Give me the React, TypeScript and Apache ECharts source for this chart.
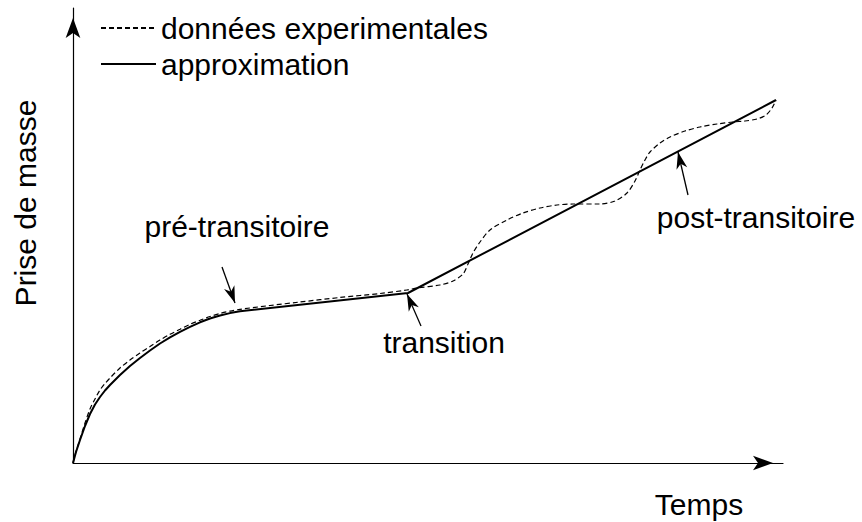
import React, { useEffect, useRef } from "react";
import * as echarts from "echarts";

// Axis extents (arbitrary units)
const X_MAX = 710;
const Y_MAX = 455;

// Approximation (solid)
const approxX = [0, 3, 7, 12, 17, 22, 27, 32, 37, 47, 57, 67, 77, 87, 97, 107, 117, 127, 137, 147, 157, 167, 335, 703];
const approxY = [0, 11, 23, 37, 49, 58.5, 66, 72.5, 78, 88, 97, 105, 112.5, 119.5, 125.7, 131.2, 136.2, 140.7, 144.5, 147.5, 149.9, 151.7, 170, 363];

// Experimental data (dashed)
const dataX = [0, 3, 7, 12, 17, 22, 27, 32, 37, 47, 57, 67, 77, 87, 97, 107, 117, 127, 137, 147, 157, 167, 197, 227, 267, 307, 334, 344, 367, 380, 390, 395, 400, 407, 417, 434, 450, 467, 484, 500, 527, 542, 554, 562, 567, 572, 577, 587, 597, 612, 627, 644, 660, 672, 684, 693, 699, 703];
const dataY = [0, 11.5, 24, 40, 54, 64, 73, 79.5, 85, 95, 103, 110, 116.5, 123, 128.7, 133.7, 138.7, 142.7, 146.5, 149.5, 151.9, 153.7, 157.5, 161, 165.5, 169.5, 173, 175, 178, 182, 189, 199, 210, 221, 233, 243, 250, 255, 258, 259, 259, 262, 270, 282, 293, 303, 311, 320, 326, 332, 336, 339, 341, 342, 344, 348, 355, 363];

const seriesNames = ["données experimentales", "approximation"];

// Annotations: label, arrow tail, arrow tip (data units)
const annoLabels = ["pré-transitoire", "transition", "post-transitoire"];
const annoTails = [[149, 196], [348, 137], [615, 268]];
const annoTips = [[162, 160], [334, 169], [605, 311]];

const FONT = "Liberation Sans";
const FS = 30;

export default function App() {
  const ref = useRef<HTMLDivElement>(null);

  useEffect(() => {
    if (!ref.current) return;
    const chart = echarts.init(ref.current, null, { renderer: "svg" });

    const axisCommon = {
      type: "value",
      min: 0,
      splitLine: { show: false },
      axisTick: { show: false },
      axisLabel: { show: false },
      axisLine: {
        show: true,
        onZero: false,
        symbol: ["none", "arrow"],
        symbolSize: [11, 20],
        symbolOffset: [0, -10],
        lineStyle: { color: "#000", width: 1.2 },
      },
    };

    const textBase = {
      fontFamily: FONT,
      fontSize: FS,
      fill: "#000",
      align: "center",
      verticalAlign: "middle",
    };

    chart.setOption({
      animation: false,
      backgroundColor: "#fff",
      grid: { left: 73, right: 79, top: 8, bottom: 59, containLabel: false },
      xAxis: { ...axisCommon, max: X_MAX },
      yAxis: { ...axisCommon, max: Y_MAX },
      legend: {
        orient: "vertical",
        left: 100,
        top: 10,
        padding: 0,
        itemWidth: 55,
        itemHeight: 14,
        itemGap: 0,
        selectedMode: false,
        data: seriesNames,
        itemStyle: { opacity: 0 },
        textStyle: {
          fontFamily: FONT,
          fontSize: FS,
          color: "#000",
          lineHeight: 31,
          padding: [0, 0, 5, 0],
        },
      },
      series: [
        {
          name: seriesNames[0],
          type: "line",
          data: dataX.map((x, i) => [x, dataY[i]]),
          symbol: "none",
          smooth: 0.3,
          clip: false,
          silent: true,
          lineStyle: { color: "#000", width: 1.2, type: [5, 3] },
          itemStyle: { color: "#000" },
          z: 3,
        },
        {
          name: seriesNames[1],
          type: "line",
          data: approxX.map((x, i) => [x, approxY[i]]),
          symbol: "none",
          smooth: false,
          clip: false,
          silent: true,
          lineStyle: { color: "#000", width: 2 },
          itemStyle: { color: "#000" },
          z: 4,
          markLine: {
            silent: true,
            animation: false,
            symbol: ["none", "none"],
            label: { show: false },
            lineStyle: { color: "#000", width: 1.3, type: "solid" },
            emphasis: { disabled: true },
            data: annoTails.map((t, i) => [{ coord: t }, { coord: annoTips[i] }]),
          },
        },
      ],
      graphic: [
        { type: "text", x: 237, y: 226, style: { ...textBase, text: annoLabels[0] } },
        { type: "text", x: 444, y: 342, style: { ...textBase, text: annoLabels[1] } },
        { type: "text", x: 756, y: 217, style: { ...textBase, text: annoLabels[2] } },
        { type: "text", x: 699, y: 504, style: { ...textBase, text: "Temps" } },
        {
          type: "text",
          x: 25,
          y: 203,
          rotation: Math.PI / 2,
          style: { ...textBase, text: "Prise de masse" },
        },
      ],
    });

    // Arrowheads at the annotation tips, placed through the axes' scales
    const heads = annoTips.map((tip, i) => {
      const p = chart.convertToPixel({ gridIndex: 0 }, tip) as number[];
      const q = chart.convertToPixel({ gridIndex: 0 }, annoTails[i]) as number[];
      const dx = p[0] - q[0];
      const dy = p[1] - q[1];
      const L = Math.sqrt(dx * dx + dy * dy);
      const ux = dx / L, uy = dy / L;
      const nx = -uy, ny = ux;
      const len = 17, w = 5.5, notch = 12;
      return {
        type: "polygon",
        id: "head" + i,
        silent: true,
        z: 10,
        shape: {
          points: [
            [p[0], p[1]],
            [p[0] - len * ux + w * nx, p[1] - len * uy + w * ny],
            [p[0] - notch * ux, p[1] - notch * uy],
            [p[0] - len * ux - w * nx, p[1] - len * uy - w * ny],
          ],
        },
        style: { fill: "#000" },
      };
    });
    chart.setOption({ graphic: heads });

    return () => chart.dispose();
  }, []);

  return (
    <div
      ref={ref}
      style={{ position: "fixed", left: 0, top: 0, width: 862, height: 522 }}
    />
  );
}
